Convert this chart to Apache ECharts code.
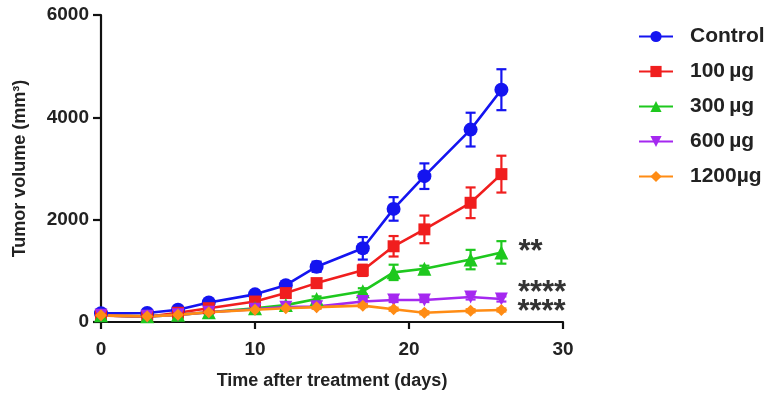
<!DOCTYPE html>
<html>
<head>
<meta charset="utf-8">
<script src="https://cdn.jsdelivr.net/npm/echarts@6/dist/echarts.min.js"></script>
<style>
  html, body { margin: 0; padding: 0; background: #fff; }
  #chart { width: 780px; height: 396px; }
</style>
</head>
<body>
<div id="chart"></div>
<script>
// days after treatment
const days = [0, 3, 5, 7, 10, 12, 14, 17, 19, 21, 24, 26];

const seriesNames = ['Control', '100\u2009µg', '300\u2009µg', '600\u2009µg', '1200µg'];

// mean tumor volume (mm3) and error per group
const controlVol = [170, 175, 240, 380, 540, 720, 1080, 1440, 2210, 2850, 3760, 4540];
const controlErr = [40, 40, 50, 60, 70, 80, 100, 220, 230, 250, 330, 400];
const vol100 = [130, 100, 180, 270, 400, 565, 760, 1010, 1480, 1810, 2330, 2890];
const err100 = [30, 30, 40, 40, 50, 60, 80, 110, 200, 270, 300, 360];
const vol300 = [130, 110, 140, 190, 270, 330, 450, 600, 970, 1040, 1220, 1360];
const err300 = [30, 30, 30, 30, 40, 40, 50, 60, 150, 60, 190, 220];
const vol600 = [130, 110, 140, 190, 250, 290, 300, 400, 430, 430, 490, 450];
const err600 = [20, 20, 20, 20, 30, 30, 30, 40, 40, 40, 50, 50];
const vol1200 = [130, 110, 140, 190, 240, 270, 290, 320, 250, 180, 220, 235];
const err1200 = [20, 20, 20, 20, 30, 30, 30, 30, 30, 30, 30, 30];

// significance marks at last time point
const sigMarks = ['', '', '**', '****', '****'];

const xTicks = [0, 10, 20, 30];
const yTicks = [0, 2000, 4000, 6000];

const volumes = [controlVol, vol100, vol300, vol600, vol1200];
const errors = [controlErr, err100, err300, err600, err1200];
const colors = ['#1414f0', '#f01e1e', '#1ec81e', '#a528f0', '#ff8c14'];
const symbols = ['circle', 'rect', 'triangle', 'triangle', 'diamond'];
const symbolSizes = [14, 12, 14, 13, 12];
const symbolRotates = [0, 0, 0, 180, 0];
const sigOffsets = [[0, 0], [0, 0], [4, 0], [4, -6], [4, 2]];

const FONT = 'Liberation Sans, Arial, sans-serif';

var dom = document.getElementById('chart');
var myChart = echarts.init(dom, null, { renderer: 'canvas' });

function errorBarItem(params, api) {
    const x = api.value(0);
    const top = api.coord([x, api.value(2)]);
    const bot = api.coord([x, api.value(1)]);
    const w = 5;
    const style = { stroke: api.visual('color'), lineWidth: 2.2 };
    return {
        type: 'group',
        children: [
            { type: 'line', shape: { x1: top[0], y1: top[1], x2: bot[0], y2: bot[1] }, style: style },
            { type: 'line', shape: { x1: top[0] - w, y1: top[1], x2: top[0] + w, y2: top[1] }, style: style },
            { type: 'line', shape: { x1: bot[0] - w, y1: bot[1], x2: bot[0] + w, y2: bot[1] }, style: style }
        ]
    };
}

const series = [];
volumes.forEach((vals, i) => {
    series.push({
        name: seriesNames[i] + '_err',
        type: 'custom',
        renderItem: errorBarItem,
        itemStyle: { color: colors[i] },
        data: days.map((d, j) => [d, vals[j] - errors[i][j], vals[j] + errors[i][j]]),
        z: 2,
        silent: true
    });
    series.push({
        name: seriesNames[i],
        type: 'line',
        symbol: symbols[i],
        symbolSize: symbolSizes[i],
        symbolRotate: symbolRotates[i],
        color: colors[i],
        lineStyle: { width: 2.6, color: colors[i] },
        itemStyle: { color: colors[i] },
        z: 3,
        data: days.map((d, j) => {
            const item = { value: [d, vals[j]] };
            if (j === days.length - 1 && sigMarks[i]) {
                item.label = {
                    show: true,
                    position: 'right',
                    offset: sigOffsets[i],
                    formatter: sigMarks[i],
                    fontFamily: FONT,
                    fontWeight: 'bold',
                    fontSize: 31,
                    color: '#333',
                    distance: 6
                };
            }
            return item;
        })
    });
});

const option = {
    animation: false,
    textStyle: { fontFamily: FONT },
    grid: { left: 101, right: 217, top: 15, bottom: 74 },
    legend: {
        data: seriesNames,
        orient: 'vertical',
        left: 633,
        top: 21,
        itemWidth: 34,
        itemHeight: 14,
        itemGap: 14,
        textStyle: {
            fontFamily: FONT,
            fontWeight: 'bold',
            fontSize: 21,
            color: '#222',
            padding: [0, 0, 0, 12]
        }
    },
    xAxis: {
        type: 'value',
        min: xTicks[0],
        max: xTicks[xTicks.length - 1],
        interval: 10,
        name: 'Time after treatment (days)',
        nameLocation: 'middle',
        nameGap: 50,
        nameTextStyle: { fontFamily: FONT, fontWeight: 'bold', fontSize: 18, color: '#222' },
        axisLine: { onZero: false, lineStyle: { color: '#111', width: 2.2 } },
        axisTick: { show: true, length: 7, lineStyle: { color: '#111', width: 2.2 } },
        axisLabel: { fontFamily: FONT, fontWeight: 'bold', fontSize: 19, color: '#222', margin: 18 },
        splitLine: { show: false }
    },
    yAxis: {
        type: 'value',
        min: yTicks[0],
        max: yTicks[yTicks.length - 1],
        interval: 2000,
        name: 'Tumor volume (mm³)',
        nameLocation: 'middle',
        nameGap: 72,
        nameTextStyle: { fontFamily: FONT, fontWeight: 'bold', fontSize: 18, color: '#222' },
        axisLine: { show: true, onZero: false, lineStyle: { color: '#111', width: 2.2 } },
        axisTick: { show: true, length: 8, lineStyle: { color: '#111', width: 2.2 } },
        axisLabel: {
            fontFamily: FONT, fontWeight: 'bold', fontSize: 19, color: '#222', margin: 12,
            formatter: v => String(v)
        },
        splitLine: { show: false }
    },
    series: series
};

myChart.setOption(option);
window.addEventListener('resize', myChart.resize);
</script>
</body>
</html>
